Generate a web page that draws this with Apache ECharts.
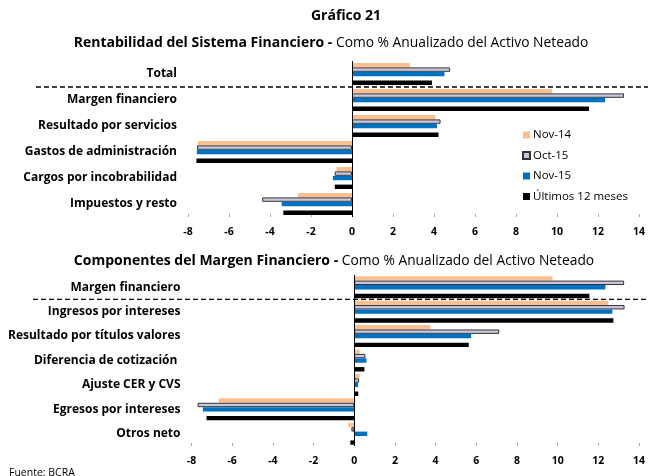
<!DOCTYPE html>
<html>
<head>
<meta charset="utf-8">
<script src="https://cdn.jsdelivr.net/npm/echarts@6/dist/echarts.min.js"></script>
<style>
  html, body { margin: 0; padding: 0; background: #fff; }
  #chart { width: 648px; height: 476px; }
</style>
</head>
<body>
<div id="chart"></div>
<script>
// series names (legend)
const seriesNames = ['Nov-14', 'Oct-15', 'Nov-15', 'Últimos 12 meses'];

// Rentabilidad del Sistema Financiero
const rentCategories = ['Total', 'Margen financiero', 'Resultado por servicios', 'Gastos de administración', 'Cargos por incobrabilidad', 'Impuestos y resto'];
const rentNov14 = [2.82, 9.75, 4.06, -7.52, -0.75, -2.63];
const rentOct15 = [4.79, 13.27, 4.32, -7.56, -0.84, -4.38];
const rentNov15 = [4.51, 12.35, 4.14, -7.57, -0.93, -3.43];
const rent12m = [3.90, 11.56, 4.22, -7.59, -0.84, -3.35];

// Componentes del Margen Financiero
const margCategories = ['Margen financiero', 'Ingresos por intereses', 'Resultado por títulos valores', 'Diferencia de cotización ', 'Ajuste CER y CVS', 'Egresos por intereses', 'Otros neto'];
const margNov14 = [9.75, 12.49, 3.74, 0.27, 0.27, -6.66, -0.30];
const margOct15 = [13.27, 13.29, 7.13, 0.55, 0.24, -7.70, -0.14];
const margNov15 = [12.35, 12.69, 5.75, 0.60, 0.19, -7.44, 0.64];
const marg12m = [11.56, 12.74, 5.63, 0.50, 0.20, -7.26, -0.19];

// x axis ticks
const xMin = -8, xMax = 14, xStep = 2;

const colors = ['#FAC08F', '#CCC6DC', '#0070C0', '#000000'];
const font = '"Open Sans", "DejaVu Sans", sans-serif';

const chart = echarts.init(document.getElementById('chart'));

function barSeries(gridIdx, name, data, i) {
    const s = {
        name: name,
        type: 'bar',
        xAxisIndex: gridIdx,
        yAxisIndex: gridIdx,
        data: data,
        barWidth: 4.4,
        barGap: '0%',
        itemStyle: { color: colors[i] },
        emphasis: { disabled: true }
    };
    if (i === 1) {
        s.itemStyle.borderColor = '#333333';
        s.itemStyle.borderWidth = 1;
    }
    return s;
}

function blankSeries(gridIdx, n) {
    return {
        name: 'blank' + gridIdx,
        type: 'bar',
        xAxisIndex: gridIdx,
        yAxisIndex: gridIdx,
        data: new Array(n).fill('-'),
        barWidth: 4.4,
        barGap: '0%'
    };
}

function zeroLine() {
    return {
        symbol: 'none',
        silent: true,
        label: { show: false },
        lineStyle: { color: '#000', width: 1, type: 'solid' },
        data: [{ xAxis: 0 }]
    };
}

function xAxisCfg(gridIdx) {
    return {
        type: 'value',
        gridIndex: gridIdx,
        min: xMin,
        max: xMax,
        interval: xStep,
        splitLine: { show: false },
        axisLine: { onZero: false, lineStyle: { color: '#000', width: 1 } },
        axisTick: { show: true, inside: true, length: 3, lineStyle: { color: '#aaa' } },
        axisLabel: { color: '#000', fontWeight: 'bold', fontSize: 10.5, fontFamily: font, margin: 10 }
    };
}

function yAxisCfg(gridIdx, cats) {
    return {
        type: 'category',
        gridIndex: gridIdx,
        data: cats,
        inverse: true,
        axisLine: { show: false, onZero: false },
        axisTick: { show: false },
        axisLabel: { color: '#000', fontWeight: 'bold', fontSize: 12, fontFamily: font, margin: 11 }
    };
}

const s0 = barSeries(0, seriesNames[0], rentNov14, 0);
s0.markLine = zeroLine();
const s5 = barSeries(1, seriesNames[0], margNov14, 0);
s5.markLine = zeroLine();

const titleRich = {
    b: { fontSize: 14, lineHeight: 16, fontWeight: 'bold', color: '#000', fontFamily: font },
    n: { fontSize: 13.8, lineHeight: 16, fontWeight: 'normal', color: '#000', fontFamily: font }
};

chart.setOption({
    animation: false,
    textStyle: { fontFamily: font },
    title: [
        {
            text: 'Gráfico 21', left: 346, top: 8, textAlign: 'center', padding: 0,
            textStyle: { fontSize: 14, lineHeight: 16, fontWeight: 'bold', color: '#000', fontFamily: font }
        },
        {
            text: '{b|Rentabilidad del Sistema Financiero - }{n|Como % Anualizado del Activo Neteado}',
            left: 331, top: 35, textAlign: 'center', padding: 0,
            textStyle: { rich: titleRich }
        },
        {
            text: '{b|Componentes del Margen Financiero - }{n|Como % Anualizado del Activo Neteado}',
            left: 334, top: 253, textAlign: 'center', padding: 0,
            textStyle: { rich: titleRich }
        },
        {
            text: 'Fuente: BCRA', left: 9, top: 467, padding: 0,
            textStyle: { fontSize: 10.5, lineHeight: 12, fontWeight: 'normal', color: '#000', fontFamily: font }
        }
    ],
    legend: {
        data: seriesNames,
        orient: 'vertical',
        left: 522,
        top: 129,
        padding: 0,
        itemWidth: 7,
        itemHeight: 7,
        itemGap: 8.5,
        icon: 'rect',
        textStyle: { fontSize: 11.5, color: '#000', fontFamily: font, padding: [0, 0, 0, -2] },
        selectedMode: false
    },
    grid: [
        { left: 188, right: 5, top: 61, height: 156 },
        { left: 191.5, right: 7, top: 275, height: 171 }
    ],
    xAxis: [xAxisCfg(0), xAxisCfg(1)],
    yAxis: [yAxisCfg(0, rentCategories), yAxisCfg(1, margCategories)],
    series: [
        s0,
        barSeries(0, seriesNames[1], rentOct15, 1),
        barSeries(0, seriesNames[2], rentNov15, 2),
        blankSeries(0, rentCategories.length),
        barSeries(0, seriesNames[3], rent12m, 3),
        s5,
        barSeries(1, seriesNames[1], margOct15, 1),
        barSeries(1, seriesNames[2], margNov15, 2),
        blankSeries(1, margCategories.length),
        barSeries(1, seriesNames[3], marg12m, 3)
    ]
});

// dashed separators between the first and second category of each panel
function sepY(yIdx) {
    const a = chart.convertToPixel({ yAxisIndex: yIdx }, 0);
    const b = chart.convertToPixel({ yAxisIndex: yIdx }, 1);
    return (a + b) / 2;
}
const dash = { stroke: '#000', lineWidth: 1.3, lineDash: [5, 3] };
chart.setOption({
    graphic: [
        { type: 'line', silent: true, shape: { x1: 36, y1: sepY(0), x2: 648, y2: sepY(0) }, style: dash },
        { type: 'line', silent: true, shape: { x1: 33, y1: sepY(1), x2: 648, y2: sepY(1) }, style: dash }
    ]
});
</script>
</body>
</html>
